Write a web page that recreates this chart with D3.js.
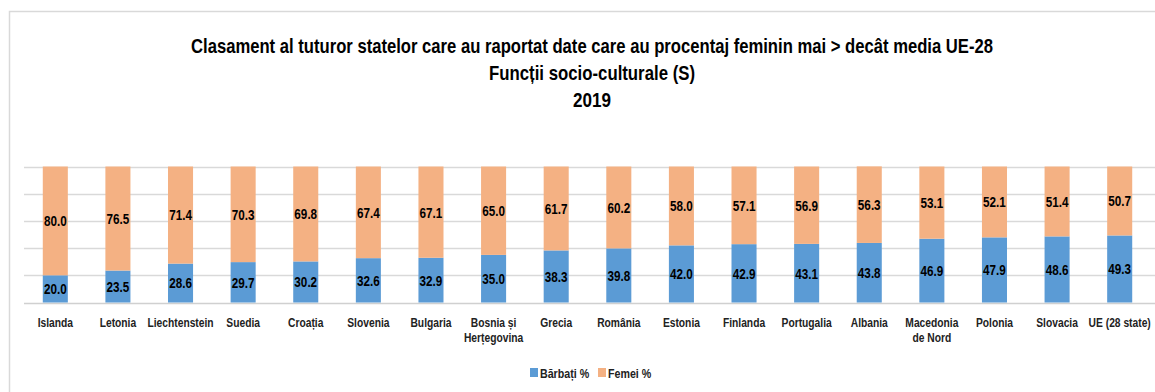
<!DOCTYPE html>
<html>
<head>
<meta charset="utf-8">
<script src="https://cdn.jsdelivr.net/npm/d3@7"></script>
<style>
  html, body { margin: 0; padding: 0; background: #fff; }
  svg { display: block; }
  text { font-family: "Liberation Sans", Arial, sans-serif; font-weight: bold; }
</style>
</head>
<body>
<svg id="chart" width="1155" height="392"></svg>
<script>
// Share of men and women in socio-cultural functions, 2019
const categories = ["Islanda", "Letonia", "Liechtenstein", "Suedia", "Croația", "Slovenia", "Bulgaria",
  "Bosnia și\nHerțegovina", "Grecia", "România", "Estonia", "Finlanda", "Portugalia", "Albania",
  "Macedonia\nde Nord", "Polonia", "Slovacia", "UE (28 state)"];
const barbati = [20.0, 23.5, 28.6, 29.7, 30.2, 32.6, 32.9, 35.0, 38.3, 39.8, 42.0, 42.9, 43.1, 43.8, 46.9, 47.9, 48.6, 49.3];
const femei   = [80.0, 76.5, 71.4, 70.3, 69.8, 67.4, 67.1, 65.0, 61.7, 60.2, 58.0, 57.1, 56.9, 56.3, 53.1, 52.1, 51.4, 50.7];
const seriesNames = ["Bărbați %", "Femei %"];
const yTicks = [0, 20, 40, 60, 80, 100];
const titleLines = [
  "Clasament al tuturor statelor care au raportat date care au procentaj feminin mai > decât media UE-28",
  "Funcții socio-culturale (S)",
  "2019"
];

const colors = ["#5b9bd5", "#f4b183"];
const W = 1155, H = 392;
const svg = d3.select("#chart");

// place a text at (x, y) with horizontally condensed glyphs
function narrowAt(sel, fx, fy, k) {
  sel.attr("x", 0).attr("y", 0)
    .attr("transform", (d, i) => `translate(${fx(d, i)},${fy(d, i)}) scale(${k},1)`);
  return sel;
}

// outer chart frame
svg.append("path")
  .attr("d", `M9.5,${H} V11.5 H${W}`)
  .attr("fill", "none").attr("stroke", "#d9d9d9").attr("stroke-width", 1.5);

// title
const titleWidths = [802, 206, 38];
svg.append("g").selectAll("text").data(titleLines).join("text")
  .attr("x", 592).attr("y", (d, i) => 52.5 + i * 27)
  .attr("text-anchor", "middle")
  .attr("font-size", 20.5)
  .attr("fill", "#000")
  .attr("textLength", (d, i) => titleWidths[i])
  .attr("lengthAdjust", "spacingAndGlyphs")
  .text(d => d);

const plot = { left: 24, right: 1151, top: 166.5, bottom: 302.5 };

const x = d3.scaleBand().domain(categories).range([plot.left, plot.right]).paddingInner(0.6).paddingOuter(0.3);
const y = d3.scaleLinear().domain([0, 100]).range([plot.bottom, plot.top]);

// gridlines
svg.append("g").selectAll("line").data(yTicks).join("line")
  .attr("x1", plot.left).attr("x2", W)
  .attr("y1", d => Math.round(y(d)) + 0.5).attr("y2", d => Math.round(y(d)) + 0.5)
  .attr("stroke", d => d === 0 ? "#d0d0d0" : "#d9d9d9").attr("stroke-width", 1.3);

const rows = categories.map((c, i) => ({ c, b: barbati[i], f: femei[i] }));
const stack = d3.stack().keys(["b", "f"])(rows);

const layers = svg.append("g").selectAll("g").data(stack).join("g")
  .attr("fill", (d, i) => colors[i]);

layers.selectAll("rect").data(d => d).join("rect")
  .attr("x", d => x(d.data.c))
  .attr("width", x.bandwidth())
  .attr("y", d => y(d[1]))
  .attr("height", d => y(d[0]) - y(d[1]));

// value labels
const labels = svg.append("g");
stack.forEach(layer => {
  const t = labels.selectAll(null).data(layer).join("text")
    .attr("dy", "0.36em")
    .attr("text-anchor", "middle")
    .attr("font-size", 15)
    .attr("fill", "#000")
    .text(d => (d[1] - d[0]).toFixed(1));
  narrowAt(t, d => x(d.data.c) + x.bandwidth() / 2, d => y((d[0] + d[1]) / 2), 0.78);
});

// category axis labels
const xAxis = svg.append("g").selectAll("text").data(categories).join("text")
  .attr("text-anchor", "middle")
  .attr("font-size", 13)
  .attr("fill", "#222");
narrowAt(xAxis, d => x(d) + x.bandwidth() / 2, () => 326.5, 0.79);
xAxis.each(function(d) {
  d3.select(this).selectAll("tspan").data(d.split("\n")).join("tspan")
    .attr("x", 0)
    .attr("dy", (p, i) => i === 0 ? 0 : 16)
    .text(p => p);
});

// legend
const legend = svg.append("g");
const legendX = [530, 598];
seriesNames.forEach((name, i) => {
  legend.append("rect").attr("x", legendX[i]).attr("y", 368).attr("width", 8).attr("height", 9).attr("fill", colors[i]);
  narrowAt(legend.append("text").attr("font-size", 13.5).attr("fill", "#222").text(name),
    () => legendX[i] + 10, () => 377.5, 0.79);
});
</script>
</body>
</html>
